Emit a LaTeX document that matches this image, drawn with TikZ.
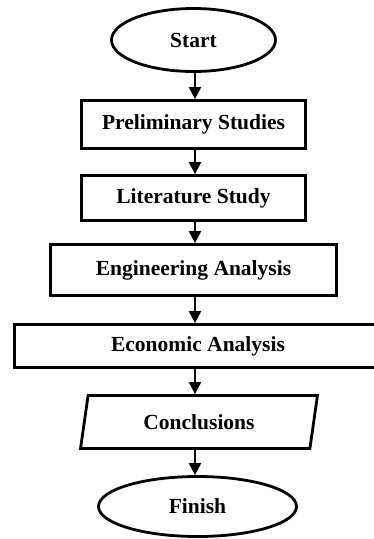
\documentclass[tikz,border=0pt]{standalone}
\usepackage{fontspec}
\setmainfont{Liberation Serif}
\usetikzlibrary{shapes.geometric,arrows.meta}
\begin{document}
\begin{tikzpicture}[x=1pt,y=-1pt,
  every node/.style={font=\bfseries\fontsize{21.5}{24}\selectfont, inner sep=0pt, line width=2.8pt, draw=black},
  term/.style={ellipse},
  proc/.style={rectangle},
  io/.style={trapezium, trapezium left angle=76, trapezium right angle=104, trapezium stretches=true},
  arr/.style={line width=2pt, -{Triangle[width=12pt,length=12pt]}}]
\useasboundingbox (0,0) rectangle (374,539);
\clip (0,0) rectangle (374,539);
\node[term, minimum width=164pt, minimum height=63pt] (start) at (193.5,40) {Start};
\node[proc, minimum width=224pt, minimum height=48pt] (pre) at (193.5,124.5) {Preliminary Studies};
\node[proc, minimum width=224pt, minimum height=45pt] (lit) at (193.5,198) {Literature Study};
\node[proc, minimum width=286pt, minimum height=51pt] (eng) at (193.5,270) {Engineering Analysis};
\node[proc, minimum width=367pt, minimum height=43pt] (eco) at (198,346) {Economic Analysis};
\node[io, minimum width=237pt, minimum height=53pt] (con) at (199,422) {Conclusions};
\node[term, minimum width=198pt, minimum height=60pt] (fin) at (197.5,506.5) {Finish};
\coordinate (ax) at (195,0);
\draw[arr] (start.south -| ax) -- (pre.north -| ax);
\draw[arr] (pre.south -| ax) -- (lit.north -| ax);
\draw[arr] (lit.south -| ax) -- (eng.north -| ax);
\draw[arr] (eng.south -| ax) -- (eco.north -| ax);
\draw[arr] (eco.south -| ax) -- (con.north -| ax);
\draw[arr] (con.south -| ax) -- (fin.north -| ax);
\end{tikzpicture}
\end{document}
